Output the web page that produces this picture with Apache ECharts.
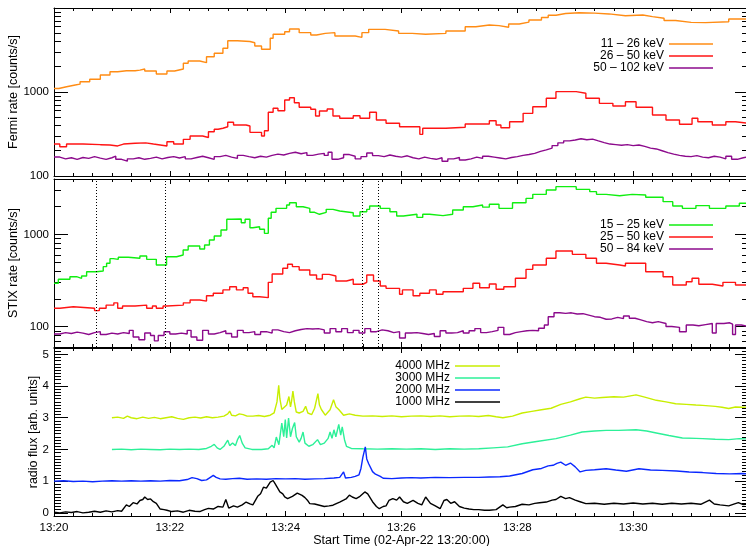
<!DOCTYPE html>
<html><head><meta charset="utf-8">
<script src="https://cdn.jsdelivr.net/npm/echarts@6/dist/echarts.min.js"></script>
<style>html,body{margin:0;padding:0;background:#fff}#c{width:746px;height:546px}</style>
</head><body><div id="c"></div>
<script>
const FONT = '"Liberation Sans", Arial, Helvetica, sans-serif';

// ---- axes / labels ----
const timeMin = 0, timeMax = 720, timeStep = 120;   // seconds after 13:20:00
const startLabel = 'Start Time (02-Apr-22 13:20:00)';
const fermiName = 'Fermi rate [counts/s]';
const stixName = 'STIX rate [counts/s]';
const radioName = 'radio flux [arb. units]';
const fermiLabels = ['11 – 26 keV', '26 – 50 keV', '50 – 102 keV'];
const stixLabels = ['15 – 25 keV', '25 – 50 keV', '50 – 84 keV'];
const radioLabels = ['4000 MHz', '3000 MHz', '2000 MHz', '1000 MHz'];
const fermiRange = [100, 10000];
const stixRange = [60, 4000];
const radioRange = [-0.1, 5.2];
const fermiMajor = [100, 1000, 10000];
const fermiTickLabels = [100, 1000];
const fermiMinor = [200,300,400,500,600,700,800,900,2000,3000,4000,5000,6000,7000,8000,9000];
const stixMajor = [100, 1000];
const stixTickLabels = [100, 1000];
const stixMinor = [70,80,90,200,300,400,500,600,700,800,900,2000,3000,4000];
const radioMajor = [0, 1, 2, 3, 4, 5];
const radioMinor = [];
for (let i = -1; i <= 52; i++) { if (i % 10 !== 0) radioMinor.push(+(i / 10).toFixed(1)); }
const flareMarkTimes = [44, 115, 319, 336];

// ---- Fermi GBM (counts/s), step data [t, value] ----
const fermi_11_26 = [[0,1100],[5,1156],[13,1212],[22,1240],[27,1327],[37,1416],[48,1594],[58,1745],[66,1790],[75,1793],[84,1820],[89,1879],[94,1778],[106,1638],[117,1780],[125,1879],[134,2196],[139,2339],[151,2233],[158,2631],[166,2890],[175,3314],[180,4080],[190,3990],[203,3863],[208,3530],[215,3224],[224,4355],[227,4862],[239,5222],[244,5623],[254,5085],[266,4770],[272,4992],[281,5085],[291,4642],[312,4477],[319,5085],[326,5570],[343,5320],[357,4992],[371,4862],[385,4992],[406,5320],[426,5990],[437,6280],[451,6170],[461,5890],[471,6450],[482,6800],[492,7200],[505,7700],[512,8200],[520,8600],[530,8790],[544,8680],[560,8500],[575,8100],[592,8260],[610,7900],[620,7540],[632,7100],[644,6750],[660,6700],[675,6870],[699,7390],[720,7390]];
const fermi_26_50 = [[0,240],[6,223],[13,240],[30,236],[48,234],[58,228],[66,240],[72,245],[84,248],[95,240],[103,228],[117,256],[124,240],[134,273],[141,299],[154,287],[160,337],[166,360],[170,370],[175,386],[180,436],[186,405],[199,394],[203,331],[215,299],[218,346],[222,573],[227,640],[232,599],[239,803],[244,855],[249,746],[254,658],[266,622],[271,518],[275,594],[283,628],[289,518],[296,486],[310,522],[317,486],[327,573],[334,464],[344,424],[358,386],[379,313],[382,370],[406,380],[426,416],[451,455],[458,405],[463,376],[472,443],[486,557],[496,668],[510,842],[520,1009],[541,966],[551,842],[565,733],[579,681],[592,767],[603,658],[620,532],[634,464],[648,413],[661,486],[667,443],[682,405],[696,443],[706,424],[720,424]];
const fermi_50_102 = [[0,168],[6,160],[12,165],[18,158],[24,166],[30,162],[36,170],[42,163],[48,158],[54,165],[60,172],[64,158],[70,150],[76,160],[82,165],[88,158],[94,162],[100,168],[106,160],[112,166],[118,170],[124,164],[130,170],[136,160],[142,166],[148,172],[154,165],[160,158],[166,170],[172,176],[178,168],[184,162],[190,176],[196,170],[202,165],[208,172],[214,168],[220,176],[226,182],[232,178],[238,186],[244,192],[250,184],[256,190],[262,176],[268,182],[274,186],[280,176],[284,192],[288,158],[294,165],[300,180],[306,172],[312,160],[318,170],[324,188],[330,175],[336,170],[342,178],[348,172],[354,168],[360,174],[366,165],[372,160],[378,168],[384,162],[390,158],[396,165],[402,150],[408,160],[414,166],[420,155],[426,160],[432,168],[438,162],[444,172],[450,168],[456,164],[462,160],[468,166],[474,170],[480,176],[486,180],[492,186],[498,196],[504,205],[510,215],[516,230],[522,248],[528,262],[534,268],[540,278],[546,270],[552,275],[558,262],[564,250],[570,240],[576,236],[582,232],[588,236],[594,230],[600,234],[606,225],[612,215],[618,210],[624,200],[630,190],[636,182],[642,176],[648,172],[654,170],[660,175],[666,168],[672,165],[678,172],[684,168],[690,160],[696,172],[702,158],[708,165],[714,170],[720,170]];

// ---- STIX (counts/s), step data [t, value] ----
const stix_15_25 = [[0,295],[4.5,326],[16.5,348],[23.4,334],[28.6,354],[33.8,394],[44,401],[51,447],[54.5,486],[58,546],[61.4,537],[66.6,565],[77,551],[89,583],[96,537],[106,466],[116.6,573],[127,598],[133.8,678],[139,750],[151,695],[156,768],[161,871],[166,961],[173,1117],[179,1461],[184,1474],[194,1341],[198,1461],[203,1184],[206,1214],[213,1138],[218,1028],[222,1499],[225,1739],[230,1920],[241,2088],[244,2213],[251,2000],[258,1920],[265,1739],[270,1656],[275,1739],[282,1873],[289,1798],[296,1723],[310,1585],[317,1767],[324,1873],[327,2036],[338,1920],[348,1767],[355,1585],[362,1656],[376,1532],[382,1656],[389,1600],[403,1656],[413,1844],[424,2000],[434,2088],[444,1980],[451,2125],[461,1920],[475,2213],[489,2463],[496,2726],[510,3040],[520,3305],[541,3090],[555,2914],[562,2726],[572,2634],[586,2726],[599,2680],[613,2530],[631,2270],[641,2036],[651,1920],[665,2058],[679,1920],[696,2036],[710,2180],[720,2180]];
const stix_25_50 = [[0,158],[6,164],[20,158],[42,149],[47,158],[54,171],[62,181],[66,158],[71,167],[84,171],[96,158],[102,167],[106,158],[113,167],[117,171],[134,181],[141,194],[151,189],[158,216],[165,230],[175,250],[182,271],[189,250],[196,264],[201,230],[206,211],[213,206],[222,302],[226,372],[237,429],[242,474],[247,447],[254,411],[265,363],[272,328],[278,369],[285,354],[292,312],[303,326],[310,288],[320,302],[324,363],[331,312],[338,276],[344,260],[358,224],[361,250],[372,216],[379,230],[389,250],[396,224],[403,239],[424,260],[434,295],[441,264],[451,290],[458,254],[466,271],[478,334],[489,418],[496,466],[510,551],[520,661],[537,608],[551,551],[562,486],[572,466],[586,454],[592,486],[613,394],[631,348],[641,283],[655,307],[661,334],[668,288],[682,276],[693,302],[706,283],[720,283]];
const stix_50_84 = [[0,83],[6,86],[12,84],[18,87],[24,85],[30,82],[36,86],[42,88],[48,82],[54,85],[60,83],[66,86],[72,84],[78,91],[82,77],[88,72],[94,85],[100,80],[104,70],[108,80],[114,88],[120,83],[126,85],[132,83],[138,91],[142,77],[148,71],[154,91],[160,83],[166,86],[172,90],[178,84],[184,77],[190,91],[196,86],[202,88],[208,82],[214,88],[220,85],[226,92],[232,88],[238,86],[244,90],[250,93],[256,95],[262,94],[268,95],[274,92],[280,85],[286,95],[292,88],[298,95],[304,86],[310,91],[316,85],[322,95],[328,88],[334,92],[340,90],[346,86],[352,88],[358,75],[364,85],[370,86],[376,84],[382,82],[388,84],[394,78],[400,90],[406,85],[412,86],[418,90],[424,85],[430,90],[436,95],[442,86],[448,88],[454,91],[460,98],[466,82],[472,86],[478,88],[484,90],[490,91],[496,90],[502,96],[508,104],[512,128],[518,141],[524,139],[530,141],[536,137],[542,138],[548,133],[554,128],[560,126],[566,120],[572,121],[578,126],[584,122],[590,130],[596,123],[602,118],[608,113],[614,110],[620,113],[626,108],[634,100],[640,98],[648,88],[655,104],[662,102],[668,105],[675,108],[682,85],[686,108],[694,110],[700,106],[703,82],[706,104],[712,100],[720,104]];

// ---- Radio flux (arb. units, offset per frequency) [t, value] ----
const radio_4000 = [[60,3.0],[66,3.02],[72,2.98],[76,3.05],[80,3.0],[86,2.97],[92,3.02],[98,2.98],[104,3.01],[110,2.97],[116,3.0],[122,3.03],[128,2.98],[134,2.95],[140,3.0],[146,3.02],[152,2.99],[158,3.03],[164,3.0],[170,3.02],[176,3.05],[180,3.12],[182,3.21],[184,3.08],[188,3.06],[192,3.12],[196,3.1],[200,3.05],[206,3.05],[212,3.07],[218,3.04],[224,3.08],[228,3.15],[231,3.5],[232.8,4.02],[234,3.6],[236,3.26],[238,3.2],[241,3.4],[243.4,3.67],[245,3.34],[246,3.5],[247.5,3.84],[249,3.5],[251,3.18],[254,3.15],[258,3.2],[260.7,3.36],[263,3.15],[267,3.1],[270,3.3],[273.4,3.76],[275,3.4],[277,3.26],[281,3.08],[286,3.25],[289.6,3.57],[292,3.35],[295,3.26],[300,3.08],[306,3.12],[312,3.08],[320,3.05],[330,3.06],[340,3.04],[350,3.06],[360,3.03],[370,3.05],[380,3.06],[390,3.04],[400,3.06],[410,3.03],[420,3.05],[430,3.06],[440,3.04],[450,3.07],[458,3.03],[465,3.0],[475,3.05],[485,3.15],[495,3.2],[505,3.25],[515,3.3],[525,3.42],[535,3.5],[545,3.6],[551,3.65],[560,3.62],[568,3.64],[580,3.66],[590,3.65],[603,3.72],[612,3.65],[624,3.55],[634,3.5],[644,3.44],[655,3.42],[665,3.4],[672,3.39],[685,3.36],[692,3.33],[699,3.29],[706,3.34],[713,3.33],[720,3.34]];
const radio_3000 = [[60,2.0],[70,2.01],[80,1.99],[90,2.01],[100,2.0],[110,1.99],[120,2.01],[130,2.0],[140,2.01],[150,2.0],[158,2.03],[163,2.1],[166,2.16],[169,2.05],[172,2.0],[176,2.1],[180,2.29],[182,2.12],[185,2.2],[188,2.12],[190,2.3],[192.4,2.44],[195,2.2],[198,2.05],[205,2.0],[215,2.0],[222,2.02],[226,2.13],[228,2.05],[230.3,2.39],[233,2.15],[236,2.83],[238,2.4],[239.6,2.94],[241,2.36],[243,2.99],[245,2.4],[247,2.66],[249.3,2.85],[251,2.4],[254,2.23],[256,2.35],[258,2.55],[260,2.2],[264,2.1],[268,2.15],[273,2.31],[276,2.15],[280,2.2],[284,2.35],[286,2.55],[288,2.35],[290,2.62],[292,2.4],[295,2.79],[297,2.45],[298.6,2.71],[301,2.3],[303,2.1],[308,2.03],[320,2.02],[335,2.01],[350,2.02],[365,2.01],[380,2.02],[395,2.0],[410,2.02],[425,2.01],[440,2.02],[455,2.05],[470,2.08],[485,2.18],[500,2.25],[520,2.34],[535,2.45],[547,2.55],[560,2.58],[572,2.6],[585,2.6],[603,2.62],[614,2.58],[624,2.52],[637,2.44],[651,2.36],[665,2.35],[672,2.34],[685,2.32],[699,2.31],[710,2.34],[720,2.33]];
const radio_2000 = [[0,1.0],[10,1.01],[20,0.99],[30,1.0],[40,0.98],[50,1.0],[60,1.01],[70,1.0],[80,1.01],[90,1.0],[100,1.01],[110,1.0],[120,1.02],[130,1.01],[138,1.05],[143,1.11],[148,1.08],[153,1.02],[158,1.04],[162,1.12],[165,1.18],[168,1.12],[172,1.07],[178,1.06],[185,1.08],[192,1.09],[200,1.06],[210,1.07],[220,1.06],[230,1.08],[240,1.07],[250,1.08],[260,1.06],[270,1.07],[280,1.08],[290,1.1],[296,1.12],[300,1.29],[302,1.1],[308,1.12],[312,1.15],[316,1.2],[318,1.4],[320,1.76],[322.5,2.08],[324,1.7],[326,1.55],[328,1.5],[330,1.3],[333,1.22],[335,1.25],[338,1.15],[341,1.09],[350,1.08],[360,1.1],[370,1.11],[380,1.1],[395,1.12],[410,1.11],[425,1.12],[440,1.12],[451,1.13],[462,1.14],[472,1.16],[485,1.24],[496,1.36],[505,1.4],[512,1.48],[517,1.5],[521,1.56],[525,1.6],[530,1.5],[535,1.57],[540,1.45],[545,1.29],[551,1.34],[560,1.36],[572,1.39],[582,1.35],[593,1.31],[606,1.39],[618,1.35],[630,1.34],[645,1.32],[658,1.29],[672,1.27],[686,1.24],[700,1.23],[713,1.24],[720,1.23]];
const radio_1000 = [[0,0.02],[6,0.0],[12,0.03],[18,0.01],[24,0.04],[30,0.0],[36,0.02],[42,0.05],[48,0.02],[54,0.06],[60,0.03],[66,0.07],[70,0.05],[75,0.25],[78,0.2],[82,0.32],[86,0.28],[89,0.39],[92,0.42],[94,0.5],[97,0.42],[100,0.44],[103,0.35],[106,0.3],[110,0.12],[114,0.1],[117,0.08],[122,0.04],[128,0.06],[134,0.02],[140,0.08],[146,0.05],[151,0.04],[156,0.1],[160,0.14],[165,0.12],[170,0.2],[175,0.18],[178,0.42],[181,0.15],[186,0.22],[190,0.18],[195,0.25],[199,0.34],[203,0.28],[206,0.25],[211,0.52],[214,0.6],[217,0.81],[220,0.78],[224,0.97],[227,1.02],[229,0.92],[231,0.88],[234,0.66],[237,0.6],[239,0.5],[242,0.45],[244,0.46],[247,0.52],[249,0.56],[252,0.62],[254,0.66],[257,0.55],[260,0.48],[263,0.38],[265,0.29],[270,0.28],[275,0.24],[280,0.2],[285,0.22],[289,0.24],[293,0.3],[296,0.34],[300,0.4],[303,0.45],[306,0.56],[309,0.5],[313,0.45],[317,0.52],[322,0.66],[325,0.6],[330,0.35],[334,0.2],[337,0.13],[341,0.2],[344,0.22],[347,0.39],[351,0.45],[355,0.4],[358,0.5],[362,0.35],[366,0.3],[372,0.39],[377,0.3],[381,0.25],[385,0.5],[390,0.3],[395,0.22],[400,0.13],[404,0.39],[407,0.42],[411,0.3],[415,0.35],[420,0.2],[425,0.15],[430,0.12],[435,0.1],[440,0.1],[446,0.08],[451,0.08],[458,0.1],[465,0.25],[469,0.16],[472,0.18],[478,0.2],[485,0.27],[492,0.25],[498,0.3],[503,0.32],[510,0.34],[516,0.4],[520,0.42],[525,0.52],[530,0.45],[534,0.48],[540,0.4],[545,0.35],[551,0.29],[560,0.3],[570,0.27],[580,0.3],[590,0.28],[600,0.31],[610,0.28],[620,0.3],[630,0.27],[640,0.3],[650,0.28],[660,0.3],[670,0.27],[679,0.4],[684,0.28],[690,0.25],[699,0.22],[705,0.28],[709,0.32],[714,0.26],[720,0.28]];

const fermiColors = ['#ff8c14', '#ff1414', '#8c0a8c'];
const stixColors = ['#10ee10', '#ff1414', '#8c0a8c'];
const radioColors = ['#c8ee00', '#2cf098', '#0a28ff', '#000000'];

// ---- build option ----
const BLACK = '#000';
const grids = [
  {left: 54, top: 8, width: 695, height: 168, containLabel: false, outerBoundsMode: 'none'},
  {left: 54, top: 179, width: 695, height: 168, containLabel: false, outerBoundsMode: 'none'},
  {left: 54, top: 348, width: 695, height: 168, containLabel: false, outerBoundsMode: 'none'}
];
function timeLabel(v) {
  if (v >= timeMax) return '';
  const m = 20 + Math.round(v / 60);
  return '13:' + String(m).padStart(2, '0');
}
function xAx(g, pos, withLabels) {
  const a = {
    gridIndex: g, type: 'value', min: timeMin, max: timeMax, interval: timeStep, position: pos,
    axisLine: {show: true, onZero: false, lineStyle: {color: BLACK, width: 1}},
    axisTick: {show: true, inside: true, length: 5, lineStyle: {color: BLACK, width: 1}},
    minorTick: {show: true, splitNumber: 6, length: 3, lineStyle: {color: BLACK, width: 1}},
    splitLine: {show: false}, minorSplitLine: {show: false},
    axisLabel: {show: withLabels, margin: 6, fontSize: 11.5, color: BLACK, fontFamily: FONT, formatter: timeLabel}
  };
  if (withLabels) {
    a.name = startLabel; a.nameLocation = 'middle'; a.nameGap = 18; a.nameMoveOverlap = false;
    a.nameTextStyle = {fontSize: 12.5, color: BLACK, fontFamily: FONT};
  }
  return a;
}
function yAx(g, type, range, pos, ticks, len, labels, name, nameGap, showLine) {
  const a = {
    gridIndex: g, type: type, min: range[0], max: range[1], position: pos,
    axisLine: {show: showLine, onZero: false, lineStyle: {color: BLACK, width: 1}},
    axisTick: {show: true, inside: true, length: len, customValues: ticks, lineStyle: {color: BLACK, width: 1}},
    splitLine: {show: false},
    axisLabel: labels ? {show: true, customValues: labels, margin: 5, fontSize: 11.5, color: BLACK, fontFamily: FONT, formatter: v => String(v)} : {show: false}
  };
  if (type === 'log') a.logBase = 10;
  if (name) {
    a.name = name; a.nameLocation = 'middle'; a.nameGap = nameGap; a.nameMoveOverlap = false;
    a.nameTextStyle = {fontSize: 12.5, color: BLACK, fontFamily: FONT};
  }
  return a;
}
const xAxis = [];
for (let g = 0; g < 3; g++) { xAxis.push(xAx(g, 'bottom', g === 2)); xAxis.push(xAx(g, 'top', false)); }
const yAxis = [
  yAx(0, 'log', fermiRange, 'left', fermiMajor, 14, fermiTickLabels, fermiName, 34, true),
  yAx(0, 'log', fermiRange, 'left', fermiMinor, 7, null, null, 0, false),
  yAx(0, 'log', fermiRange, 'right', fermiMajor, 14, null, null, 0, true),
  yAx(0, 'log', fermiRange, 'right', fermiMinor, 7, null, null, 0, false),
  yAx(1, 'log', stixRange, 'left', stixMajor, 14, stixTickLabels, stixName, 34, true),
  yAx(1, 'log', stixRange, 'left', stixMinor, 7, null, null, 0, false),
  yAx(1, 'log', stixRange, 'right', stixMajor, 14, null, null, 0, true),
  yAx(1, 'log', stixRange, 'right', stixMinor, 7, null, null, 0, false),
  yAx(2, 'value', radioRange, 'left', radioMajor, 14, radioMajor, radioName, 14, true),
  yAx(2, 'value', radioRange, 'left', radioMinor, 7, null, null, 0, false),
  yAx(2, 'value', radioRange, 'right', radioMajor, 14, null, null, 0, true),
  yAx(2, 'value', radioRange, 'right', radioMinor, 7, null, null, 0, false)
];
function ser(name, data, color, g, step) {
  return {
    type: 'line', name: name, data: data, xAxisIndex: g * 2, yAxisIndex: g * 4,
    step: step ? 'end' : false, showSymbol: false, symbol: 'none',
    lineStyle: {color: color, width: 1.4}, itemStyle: {color: color},
    emphasis: {disabled: true}, animation: false
  };
}
const series = [
  ser(fermiLabels[0], fermi_11_26, fermiColors[0], 0, true),
  ser(fermiLabels[1], fermi_26_50, fermiColors[1], 0, true),
  ser(fermiLabels[2], fermi_50_102, fermiColors[2], 0, true),
  ser(stixLabels[0], stix_15_25, stixColors[0], 1, true),
  ser(stixLabels[1], stix_25_50, stixColors[1], 1, true),
  ser(stixLabels[2], stix_50_84, stixColors[2], 1, true),
  ser(radioLabels[0], radio_4000, radioColors[0], 2, false),
  ser(radioLabels[1], radio_3000, radioColors[1], 2, false),
  ser(radioLabels[2], radio_2000, radioColors[2], 2, false),
  ser(radioLabels[3], radio_1000, radioColors[3], 2, false)
];
series[3].markLine = {
  silent: true, symbol: ['none', 'none'], animation: false,
  label: {show: false},
  lineStyle: {color: BLACK, width: 1, type: [1, 2]},
  data: flareMarkTimes.map(t => ({xAxis: t}))
};
function leg(name, right, yc, w) {
  return {
    data: [name], right: right, top: yc - 7, align: 'right', orient: 'horizontal', padding: 0,
    icon: 'rect', itemWidth: w, itemHeight: 1.5, selectedMode: false,
    textStyle: {fontSize: 12, color: BLACK, fontFamily: FONT}
  };
}
const legend = [
  leg(fermiLabels[0], 33, 45, 44), leg(fermiLabels[1], 33, 57, 44), leg(fermiLabels[2], 33, 69, 44),
  leg(stixLabels[0], 33, 226, 44), leg(stixLabels[1], 33, 238, 44), leg(stixLabels[2], 33, 250, 44),
  leg(radioLabels[0], 246, 367, 45), leg(radioLabels[1], 246, 379, 45), leg(radioLabels[2], 246, 391, 45), leg(radioLabels[3], 246, 403, 45)
];
const chart = echarts.init(document.getElementById('c'), null, {renderer: 'canvas'});
chart.setOption({
  backgroundColor: '#fff', animation: false,
  grid: grids, xAxis: xAxis, yAxis: yAxis, series: series, legend: legend
});
</script></body></html>
